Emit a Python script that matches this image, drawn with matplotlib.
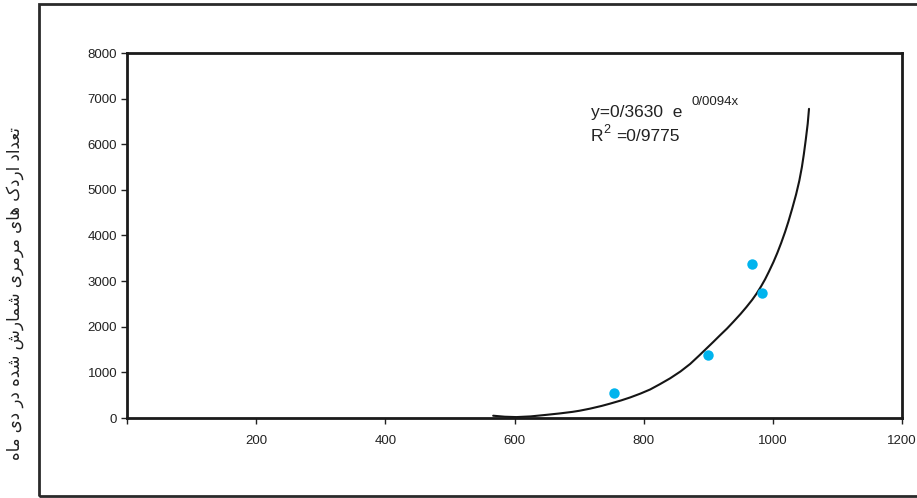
import matplotlib
matplotlib.use("Agg")
import matplotlib.pyplot as plt
from matplotlib.patches import Rectangle

# ---- data ----
obs_x = [754, 900, 968, 983]
obs_y = [550, 1370, 3380, 2750]

trend_x = [567, 585, 603, 625, 650, 670, 690, 701, 717, 735, 748, 765, 779, 795,
           810, 825, 841, 857, 872, 886, 897, 908, 918, 929, 939, 950, 959, 968,
           975, 982, 988, 994, 1001, 1007, 1013, 1019, 1024, 1030, 1036, 1041,
           1045, 1048, 1051, 1054, 1056]
trend_y = [50, 28, 20, 35, 70, 100, 135, 160, 205, 265, 315, 385, 450, 535,
           625, 740, 870, 1020, 1185, 1370, 1520, 1670, 1810, 1960, 2110, 2280,
           2430, 2590, 2730, 2890, 3040, 3210, 3420, 3620, 3840, 4080, 4300,
           4590, 4900, 5200, 5500, 5780, 6100, 6450, 6776]

x_ticks = [0, 200, 400, 600, 800, 1000, 1200]
x_tick_labels = ["", "200", "400", "600", "800", "1000", "1200"]
y_ticks = [0, 1000, 2000, 3000, 4000, 5000, 6000, 7000, 8000]
y_tick_labels = ["0", "1000", "2000", "3000", "4000", "5000", "6000", "7000", "8000"]

y_label = "تعداد اردک های مرمری شمارش شده در دی ماه"
eq_main = "y=0/3630  e"
eq_exp = "0/0094x"
r2_main = "R"
r2_sup = "2"
r2_val = "=0/9775"

# ---- simple Arabic-script shaping (presentation forms) + visual order ----
FORMS = {
    'ت': ('\uFE95', '\uFE96', '\uFE97', '\uFE98'),
    'ع': ('\uFEC9', '\uFECA', '\uFECB', '\uFECC'),
    'د': ('\uFEA9', '\uFEAA', None, None),
    'ا': ('\uFE8D', '\uFE8E', None, None),
    'ر': ('\uFEAD', '\uFEAE', None, None),
    'ک': ('\uFB8E', '\uFB8F', '\uFB90', '\uFB91'),
    'ه': ('\uFEE9', '\uFEEA', '\uFEEB', '\uFEEC'),
    'ی': ('\uFBFC', '\uFBFD', '\uFBFE', '\uFBFF'),
    'م': ('\uFEE1', '\uFEE2', '\uFEE3', '\uFEE4'),
    'ش': ('\uFEB5', '\uFEB6', '\uFEB7', '\uFEB8'),
}


def dual(c):
    return c in FORMS and FORMS[c][2] is not None


def shape(text):
    out = []
    for i, c in enumerate(text):
        if c not in FORMS:
            out.append(c)
            continue
        prev = text[i - 1] if i > 0 else ' '
        nxt = text[i + 1] if i + 1 < len(text) else ' '
        jp = dual(prev)
        jn = dual(c) and nxt in FORMS
        iso, fin, ini, med = FORMS[c]
        if jp and jn:
            out.append(med)
        elif jp:
            out.append(fin)
        elif jn:
            out.append(ini)
        else:
            out.append(iso)
    return ''.join(reversed(out))


plt.rcParams['font.family'] = ['Liberation Sans', 'DejaVu Sans']

W, H = 917, 498
fig = plt.figure(figsize=(W / 100, H / 100), dpi=100)
fig.patch.set_facecolor('white')

# outer frame
fig.add_artist(Rectangle((39 / W, 1 - 496 / H), 1.0, (496 - 4) / H,
                         transform=fig.transFigure, fill=False,
                         edgecolor='#2a2a2a', linewidth=2.0, clip_on=False))

ax = fig.add_axes([127 / W, 1 - 418 / H, (902 - 127) / W, (418 - 53) / H])
ax.set_xlim(0, 1200)
ax.set_ylim(0, 8000)

ax.plot(trend_x, trend_y, color='#151515', linewidth=1.5,
        solid_capstyle='round', solid_joinstyle='round')
ax.plot(obs_x, obs_y, linestyle='none', marker='o', markersize=7.5,
        color='#00B4EE', markeredgewidth=0)

ax.set_xticks(x_ticks)
ax.set_xticklabels(x_tick_labels)
ax.set_yticks(y_ticks)
ax.set_yticklabels(y_tick_labels)
ax.tick_params(axis='both', direction='out', length=4, width=1.0,
               color='#222222', labelsize=9.5, labelcolor='#222222')
ax.tick_params(axis='x', pad=8)
ax.tick_params(axis='y', pad=3)
for s in ax.spines.values():
    s.set_linewidth(2.0)
    s.set_color('#1a1a1a')

# y-axis label (Persian)
fig.text(15 / W, 1 - 294 / H, shape(y_label), rotation=90, ha='center',
         va='center', fontsize=12, color='#222222', family=['DejaVu Sans'])

# equation annotation
fig.text(591 / W, 1 - 117 / H, eq_main, ha='left', va='baseline',
         fontsize=12.5, color='#222222')
fig.text(692 / W, 1 - 105 / H, eq_exp, ha='left', va='baseline',
         fontsize=9.5, color='#222222')
fig.text(591 / W, 1 - 141 / H, r2_main, ha='left', va='baseline',
         fontsize=12.5, color='#222222')
fig.text(603 / W, 1 - 133 / H, r2_sup, ha='left', va='baseline',
         fontsize=9, color='#222222')
fig.text(616 / W, 1 - 141 / H, r2_val, ha='left', va='baseline',
         fontsize=12.5, color='#222222')

fig.savefig('out.png', dpi=100)
